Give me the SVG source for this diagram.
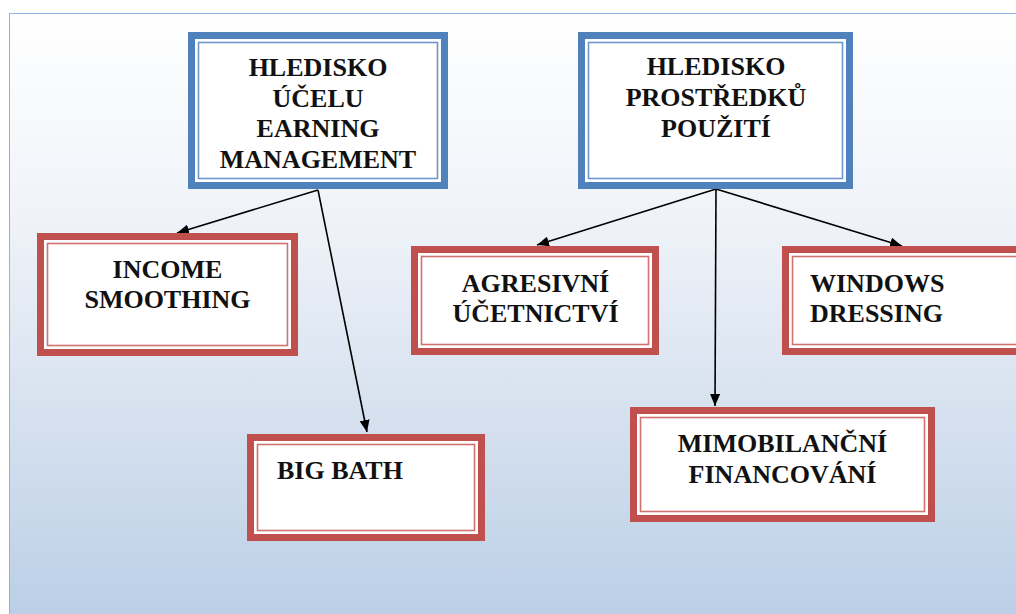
<svg xmlns="http://www.w3.org/2000/svg" width="1016" height="614" viewBox="0 0 1016 614">
<defs>
<linearGradient id="bg" x1="0" y1="0" x2="0" y2="1">
<stop offset="0" stop-color="#ffffff"/>
<stop offset="0.35" stop-color="#eef2f8"/>
<stop offset="1" stop-color="#b9cde5"/>
</linearGradient>
<marker id="ah" viewBox="0 0 12 10" refX="12" refY="5" markerWidth="12" markerHeight="10" markerUnits="userSpaceOnUse" orient="auto">
<path d="M0,0 L12,5 L0,10 z" fill="#000"/>
</marker>
<style>
text{font-family:'Liberation Serif','Times New Roman','DejaVu Serif',serif;font-weight:700;font-size:26px;fill:#111;}
.c{text-anchor:middle;}
.bo{fill:#fff;stroke:#4f81bd;stroke-width:7;}
.bi{fill:none;stroke:#6f97cb;stroke-width:1.6;}
.ro{fill:#fff;stroke:#c0504d;stroke-width:7;}
.ri{fill:none;stroke:#d0716e;stroke-width:1.6;}
.conn line{stroke:#000;stroke-width:1.6;marker-end:url(#ah);}
</style>
</defs>
<rect x="0" y="0" width="1016" height="614" fill="#fff"/>
<rect x="9.5" y="13.5" width="1020" height="620" fill="url(#bg)" stroke="#8db3e2" stroke-width="1"/>

<g id="connectors" class="conn">
<line x1="318" y1="190" x2="177" y2="233"/>
<line x1="318" y1="190" x2="367" y2="432"/>
<line x1="716" y1="189" x2="537" y2="245"/>
<line x1="716" y1="189" x2="902" y2="246"/>
<line x1="716" y1="189" x2="715" y2="406"/>
</g>

<g id="n1">
<rect class="bo" x="191.5" y="35.5" width="253" height="150"/>
<rect class="bi" x="198.5" y="42.5" width="239" height="136"/>
<text class="c" x="318" y="76">HLEDISKO</text>
<text class="c" x="318" y="107">ÚČELU</text>
<text class="c" x="318" y="137">EARNING</text>
<text class="c" x="318" y="168">MANAGEMENT</text>
</g>

<g id="n2">
<rect class="bo" x="581.5" y="35.5" width="268" height="150"/>
<rect class="bi" x="588.5" y="42.5" width="254" height="136"/>
<text class="c" x="716" y="75">HLEDISKO</text>
<text class="c" x="716" y="106">PROSTŘEDKŮ</text>
<text class="c" x="716" y="137">POUŽITÍ</text>
</g>

<g id="n3">
<rect class="ro" x="40.5" y="236.5" width="254" height="116"/>
<rect class="ri" x="47.5" y="243.5" width="240" height="102"/>
<text class="c" x="167.5" y="278">INCOME</text>
<text class="c" x="167.5" y="308">SMOOTHING</text>
</g>

<g id="n4">
<rect class="ro" x="250.5" y="437.5" width="231" height="100"/>
<rect class="ri" x="257.5" y="444.5" width="217" height="86"/>
<text x="277" y="479">BIG BATH</text>
</g>

<g id="n5">
<rect class="ro" x="414.5" y="249.5" width="241" height="102"/>
<rect class="ri" x="421.5" y="256.5" width="227" height="88"/>
<text class="c" x="535.5" y="292">AGRESIVNÍ</text>
<text class="c" x="535.5" y="322">ÚČETNICTVÍ</text>
</g>

<g id="n6">
<rect class="ro" x="785.5" y="249.5" width="245" height="102"/>
<rect class="ri" x="792.5" y="256.5" width="231" height="88"/>
<text x="810" y="292">WINDOWS</text>
<text x="810" y="322">DRESSING</text>
</g>

<g id="n7">
<rect class="ro" x="633.5" y="410.5" width="298" height="108"/>
<rect class="ri" x="640.5" y="417.5" width="284" height="94"/>
<text class="c" x="782.5" y="452">MIMOBILANČNÍ</text>
<text class="c" x="782.5" y="483">FINANCOVÁNÍ</text>
</g>
</svg>
